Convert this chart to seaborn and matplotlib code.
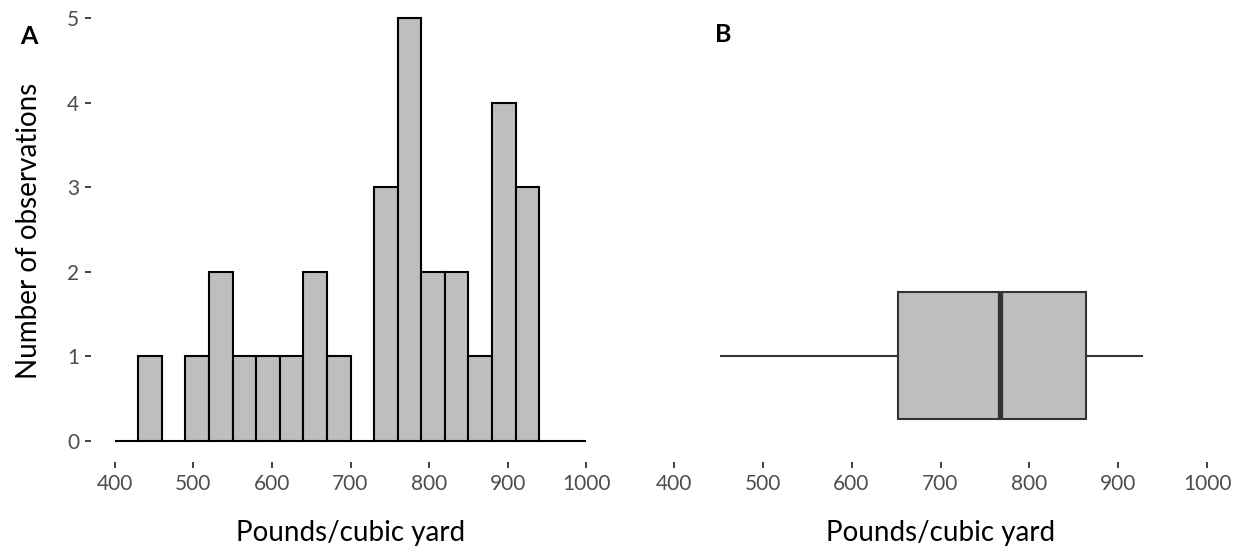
import matplotlib
matplotlib.use("Agg")
import matplotlib.pyplot as plt
import seaborn as sns
import numpy as np

# ---- data (estimated observations, pounds / cubic yard) ----
observations = [452, 505, 525, 540, 565, 595, 625, 650, 658, 685,
                738, 745, 755, 762, 765, 769, 775, 785, 800, 812,
                830, 846, 870, 885, 892, 898, 905, 915, 922, 928]
bin_start = 400
bin_stop = 1000
bin_width = 30
x_ticks = [400, 500, 600, 700, 800, 900, 1000]
y_ticks = [0, 1, 2, 3, 4, 5]
x_label = "Pounds/cubic yard"
y_label = "Number of observations"
panel_labels = ["A", "B"]

sns.set_theme(style="white")
plt.rcParams['font.family'] = ['Lato', 'DejaVu Sans']

W, H = 1241, 546
fig = plt.figure(figsize=(W / 100, H / 100), dpi=100)
fig.patch.set_facecolor("white")

def px_axes(x0, y0, x1, y1):
    return fig.add_axes([x0 / W, 1 - y1 / H, (x1 - x0) / W, (y1 - y0) / H])

fill = "#BEBEBE"
tick_col = "#4D4D4D"
title_size = 20
tick_size = 15

# ---- panel A: histogram ----
axA = px_axes(91, 0, 610, 462)
edges = np.arange(bin_start, bin_stop + bin_width / 2, bin_width)
sns.histplot(x=observations, bins=edges, ax=axA, color=fill, edgecolor="black",
             linewidth=1.5, alpha=1)
axA.set_xlim(370, 1030)
axA.set_ylim(-0.248, 5.213)
axA.set_yticks(y_ticks)
axA.set_xticks(x_ticks)
axA.set_xlabel(x_label, fontsize=title_size, color="black", labelpad=19)
axA.set_ylabel(y_label, fontsize=title_size, color="black", labelpad=18)

# ---- panel B: boxplot ----
axB = px_axes(647, 0, 1234, 462)
sns.boxplot(x=observations, ax=axB, color=fill, saturation=1, width=0.8,
            linecolor="#333333", linewidth=1.5, showcaps=False, fliersize=0,
            medianprops=dict(linewidth=3.8, color="#333333"))
axB.set_xlim(370, 1030)
axB.set_ylim(-0.668, 2.243)
axB.set_yticks([])
axB.set_xticks(x_ticks)
axB.set_xlabel(x_label, fontsize=title_size, color="black", labelpad=19)
axB.set_ylabel("")

for ax in (axA, axB):
    for s in ax.spines.values():
        s.set_visible(False)
    ax.grid(False)
    ax.tick_params(axis="both", which="major", length=4.5, width=1.3,
                   color="#333333", labelcolor=tick_col, labelsize=tick_size, pad=4,
                   bottom=True, left=(ax is axA))
    ax.set_facecolor("white")

fig.text(29 / W, 1 - 36 / H, panel_labels[0], fontsize=18, fontweight="bold",
         ha="center", va="center", color="black")
fig.text(723 / W, 1 - 35 / H, panel_labels[1], fontsize=18, fontweight="bold",
         ha="center", va="center", color="black")

fig.savefig("out.png", dpi=100, facecolor="white")
